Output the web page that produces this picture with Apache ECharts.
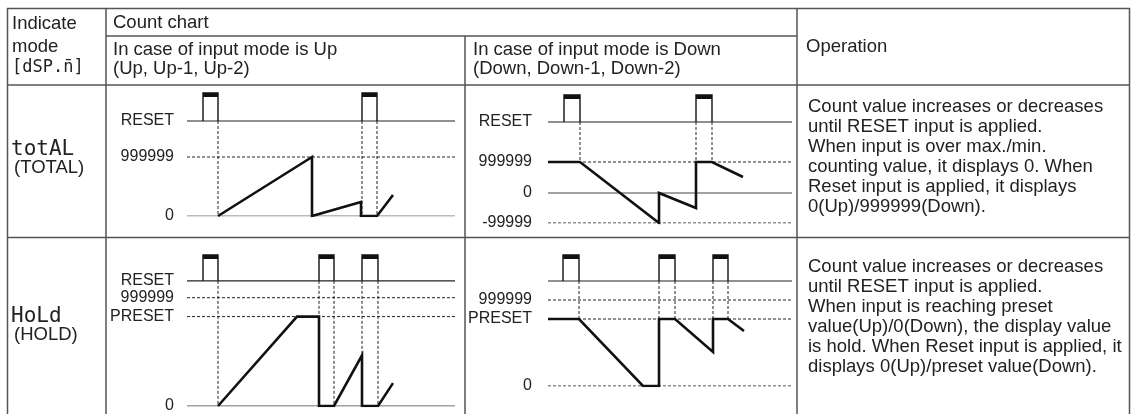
<!DOCTYPE html>
<html><head><meta charset="utf-8">
<script src="https://cdn.jsdelivr.net/npm/echarts@6/dist/echarts.min.js"></script>
<style>html,body{margin:0;padding:0;background:#fff}#c{width:1131px;height:414px}</style>
</head><body><div id="c"></div>
<script>
// ================= DATA (schematic units) =================
// Chart A: TOTAL mode, input Up
const upTotalTime   = [31, 125, 125, 174, 174, 190, 206];
const upTotalCount  = [0, 59, 0, 14, 0, 0, 21];
const upTotalPulseStart = [16, 175];
const upTotalPulseEnd   = [31, 190];
const upTotalLevels = [95, 59, 0];            // RESET, 999999, 0
const upTotalLabels = ['RESET', '999999', '0'];
const upTotalGuideX = [31, 175, 190];

// Chart B: TOTAL mode, input Down
const downTotalTime  = [0, 32, 111, 111, 148, 148, 164, 195];
const downTotalCount = [61, 61, 0, 30, 15, 61, 61, 46];
const downTotalPulseStart = [16, 148];
const downTotalPulseEnd   = [32, 164];
const downTotalLevels = [101, 61, 30, 0];     // RESET, 999999, 0, -99999
const downTotalLabels = ['RESET', '999999', '0', '-99999'];
const downTotalGuideX = [32, 148, 164];

// Chart C: HOLD mode, input Up
const upHoldTime  = [31, 110, 132, 132, 147, 175, 175, 191, 206];
const upHoldCount = [0, 90, 90, 0, 0, 51, 0, 0, 23];
const upHoldPulseStart = [16, 132, 175];
const upHoldPulseEnd   = [31, 147, 191];
const upHoldLevels = [126, 109, 90, 0];       // RESET, 999999, PRESET, 0
const upHoldLabels = ['RESET', '999999', 'PRESET', '0'];
const upHoldGuideX = [31, 132, 147, 175, 191];

// Chart D: HOLD mode, input Down
const downHoldTime  = [0, 31, 95, 111, 111, 127, 165, 165, 180, 196];
const downHoldCount = [67, 67, 0, 0, 67, 67, 34, 67, 67, 55];
const downHoldPulseStart = [15, 111, 165];
const downHoldPulseEnd   = [31, 127, 180];
const downHoldLevels = [105, 86, 67, 0];      // (reset), 999999, PRESET, 0
const downHoldLabels = ['', '999999', 'PRESET', '0'];
const downHoldGuideX = [31, 111, 127, 165, 180];

// ================= LAYOUT / STYLE =================
const FONT = "'Liberation Sans', Arial, sans-serif";
const SEG = "'DejaVu Sans Mono', monospace";
const TS = 18.5;
const charts = [
  {time: upTotalTime, count: upTotalCount, ps: upTotalPulseStart, pe: upTotalPulseEnd,
   levels: upTotalLevels, labels: upTotalLabels, guides: upTotalGuideX, pulseTop: 123,
   guideTo: 0, dashed: [false, true, false], lineColor: ['#222', '#222', '#777'],
   rect: {left: 187, top: 93, width: 268, height: 123}, xMax: 268, labMargin: 13, labShift: 3},
  {time: downTotalTime, count: downTotalCount, ps: downTotalPulseStart, pe: downTotalPulseEnd,
   levels: downTotalLevels, labels: downTotalLabels, guides: downTotalGuideX, pulseTop: 128,
   guideTo: 61, dashed: [false, true, false, true], lineColor: ['#222', '#222', '#444', '#222'],
   rect: {left: 548, top: 95, width: 244, height: 128}, xMax: 244, labMargin: 16, labShift: 2},
  {time: upHoldTime, count: upHoldCount, ps: upHoldPulseStart, pe: upHoldPulseEnd,
   levels: upHoldLevels, labels: upHoldLabels, guides: upHoldGuideX, pulseTop: 152,
   guideTo: 0, dashed: [false, true, true, false], lineColor: ['#222', '#222', '#222', '#444'],
   rect: {left: 187, top: 255, width: 268, height: 152}, xMax: 268, labMargin: 13, labShift: 4},
  {time: downHoldTime, count: downHoldCount, ps: downHoldPulseStart, pe: downHoldPulseEnd,
   levels: downHoldLevels, labels: downHoldLabels, guides: downHoldGuideX, pulseTop: 131,
   guideTo: 67, dashed: [false, true, true, true], lineColor: ['#222', '#222', '#222', '#222'],
   rect: {left: 548, top: 255, width: 244, height: 131}, xMax: 244, labMargin: 16, labShift: 4}
];

const grid = [], xAxis = [], yAxis = [], series = [];
charts.forEach((c, i) => {
  grid.push(Object.assign({containLabel: false}, c.rect));
  xAxis.push({type: 'value', gridIndex: i, min: 0, max: c.xMax, show: false});
  yAxis.push({type: 'value', gridIndex: i, min: 0, max: c.pulseTop,
    axisLine: {show: false}, axisTick: {show: false}, splitLine: {show: false},
    axisLabel: {customValues: c.levels, formatter: (v, idx) => {
        const k = c.levels.indexOf(v); return k >= 0 ? c.labels[k] : ''; },
      margin: c.labMargin, color: '#222', fontFamily: FONT, fontSize: 16,
      verticalAlign: 'middle', padding: [0, 0, c.labShift * 2, 0]}});
  // reference level lines
  c.levels.forEach((lv, k) => {
    series.push({type: 'line', xAxisIndex: i, yAxisIndex: i, silent: true, symbol: 'none',
      data: [[0, lv], [c.xMax, lv]],
      lineStyle: {color: c.lineColor[k], width: c.dashed[k] ? 1 : 1.2,
        type: c.dashed[k] ? [3, 2] : 'solid'}, z: 2});
  });
  // vertical dashed guides
  series.push({type: 'custom', xAxisIndex: i, yAxisIndex: i, silent: true, clip: false,
    data: c.guides.map(x => [x, c.levels[0], c.guideTo]),
    renderItem: (p, api) => {
      const a = api.coord([api.value(0), api.value(1)]);
      const b = api.coord([api.value(0), api.value(2)]);
      return {type: 'line', shape: {x1: a[0], y1: a[1], x2: b[0], y2: b[1]},
        style: {stroke: '#222', lineWidth: 1, lineDash: [3, 2]}};
    }, z: 3});
  // reset pulses
  series.push({type: 'custom', xAxisIndex: i, yAxisIndex: i, silent: true, clip: false,
    data: c.ps.map((s, k) => [s, c.pe[k], c.levels[0], c.pulseTop]),
    renderItem: (p, api) => {
      const s = api.value(0), e = api.value(1), b = api.value(2), t = api.value(3);
      const p1 = api.coord([s, b]), p2 = api.coord([s, t]), p3 = api.coord([e, t]), p4 = api.coord([e, b]);
      return {type: 'group', children: [
        {type: 'polyline', shape: {points: [p1, p2, p3, p4]}, style: {stroke: '#111', lineWidth: 1.4, fill: null}},
        {type: 'rect', shape: {x: p2[0], y: p2[1], width: p3[0] - p2[0], height: 4}, style: {fill: '#111'}}
      ]};
    }, z: 4});
  // count value
  series.push({type: 'line', xAxisIndex: i, yAxisIndex: i, silent: true, symbol: 'none',
    data: c.time.map((t, k) => [t, c.count[k]]),
    lineStyle: {color: '#111', width: 2.6, join: 'miter'}, z: 5});
});

// ================= TABLE (graphic) =================
const LC = '#555', LW = 1.5;
function hl(x1, x2, y) { return {type: 'line', shape: {x1, y1: y, x2, y2: y}, style: {stroke: LC, lineWidth: LW}, silent: true}; }
function vl(x, y1, y2) { return {type: 'line', shape: {x1: x, y1, x2: x, y2}, style: {stroke: LC, lineWidth: LW}, silent: true}; }
function tx(x, y, text, size, family, lh) {
  return {type: 'text', x, y, silent: true, style: {text, fill: '#222', fontSize: size || TS,
    fontFamily: family || FONT, lineHeight: lh || 20, verticalAlign: 'middle', align: 'left'}};
}
function tb(x, y, text, lh) {
  return {type: 'text', x, y, silent: true, style: {text, fill: '#222', fontSize: TS,
    fontFamily: FONT, lineHeight: lh, verticalAlign: 'top', align: 'left'}};
}
const graphic = [
  hl(7, 1130, 8.5), hl(106, 797, 36), hl(7, 1130, 85), hl(7, 1130, 237.5),
  vl(7.5, 8, 414), vl(106, 8, 414), vl(465, 36, 414), vl(797, 8, 414), vl(1129.5, 8, 414),
  tx(12, 24, 'Indicate'), tx(12, 47, 'mode'), tx(12, 68, '[dSP.n\u0304]', 17, SEG),
  tx(113, 23, 'Count chart'),
  tb(113, 40, 'In case of input mode is Up\n(Up, Up-1, Up-2)', 19),
  tb(473, 40, 'In case of input mode is Down\n(Down, Down-1, Down-2)', 19),
  tx(806, 47, 'Operation'),
  tx(11, 150, 'totAL', 21, SEG), tx(14, 168, '(TOTAL)'),
  tx(11, 317, 'HoLd', 21, SEG), tx(14, 335, '(HOLD)'),
  tb(808, 97, 'Count value increases or decreases\nuntil RESET input is applied.\nWhen input is over max./min.\ncounting value, it displays 0. When\nReset input is applied, it displays\n0(Up)/999999(Down).', 20),
  tb(808, 257, 'Count value increases or decreases\nuntil RESET input is applied.\nWhen input is reaching preset\nvalue(Up)/0(Down), the display value\nis hold. When Reset input is applied, it\ndisplays 0(Up)/preset value(Down).', 20)
];

const chart = echarts.init(document.getElementById('c'), null, {renderer: 'canvas'});
chart.setOption({animation: false, backgroundColor: '#fff', grid, xAxis, yAxis, series, graphic});
</script></body></html>
